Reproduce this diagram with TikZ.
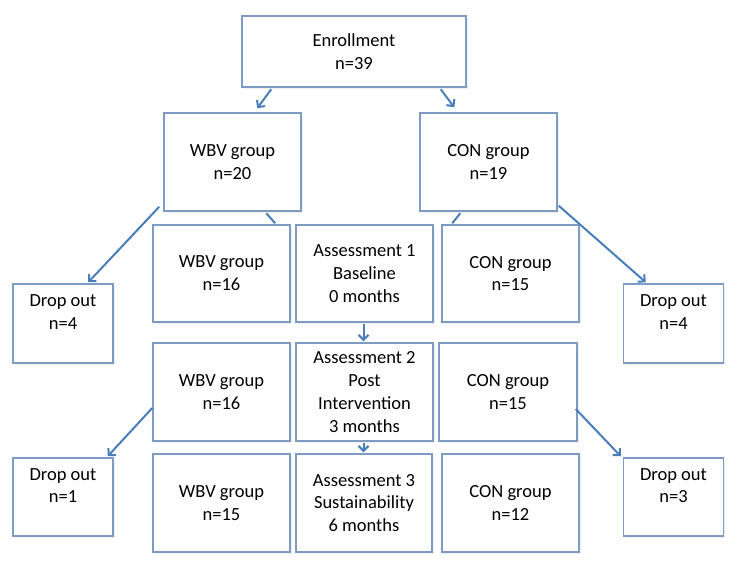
\documentclass[tikz,border=0pt]{standalone}
\usepackage{fontspec}
\setmainfont{Carlito}
\usetikzlibrary{arrows.meta,calc,shadows}
\definecolor{boxc}{RGB}{125,155,195}
\definecolor{arrc}{RGB}{74,126,187}
\begin{document}
\begin{tikzpicture}[x=1pt,y=-1pt,
  box/.style={draw=boxc,line width=1.5pt,fill=white,inner sep=0pt,align=center,
    font=\fontsize{18.5}{22.8}\selectfont,
    execute at begin node={\rule{0pt}{19.8pt}},
    drop shadow={opacity=0.12,shadow xshift=1.5pt,shadow yshift=-1.5pt}},
  wide/.style={box,minimum width=137pt,minimum height=97pt},
  drop/.style={box,minimum width=100pt,minimum height=79pt},
  conn/.style={draw=arrc,line width=2pt},
  arr/.style={conn,-{Straight Barb[length=5pt,width=10pt]}}]
\useasboundingbox (0,0) rectangle (740,566);
% top
\node[box,minimum width=224pt,minimum height=71pt] (enroll) at (354,51.5) {Enrollment\\n=39};
\node[wide,minimum height=98pt] (wbv20) at (232.5,162) {WBV group\\n=20};
\node[wide,minimum height=98pt] (con19) at (488.5,162) {CON group\\n=19};
% row 2
\node[wide] (wbv16a) at (221.5,273.5) {WBV group\\n=16};
\node[wide] (a1) at (364.5,273.5) {Assessment 1\\Baseline\\0 months};
\node[wide] (con15a) at (510.5,273.5) {CON group\\n=15};
\node[drop] (dol1) at (63,323.5) {Drop out\\n=4\\\mbox{}};
\node[drop] (dor1) at (673.5,323.5) {Drop out\\n=4\\\mbox{}};
% row 3
\node[wide,minimum height=98pt] (wbv16b) at (221.5,392) {WBV group\\n=16};
\node[wide,minimum height=98pt] (a2) at (364.5,392) {Assessment 2\\Post\\Intervention\\3 months};
\node[wide,minimum width=138pt,minimum height=98pt] (con15b) at (508,392) {CON group\\n=15};
\node[drop,minimum height=78pt] (dol2) at (63,497) {Drop out\\n=1\\\mbox{}};
\node[drop,minimum height=78pt] (dor2) at (673.5,497) {Drop out\\n=3\\\mbox{}};
% row 4
\node[wide,minimum height=98pt] (wbv15) at (221.5,503) {WBV group\\n=15};
\node[wide,minimum height=98pt,minimum width=136pt] (a3) at (364,503) {Assessment 3\\Sustainability\\6 months};
\node[wide,minimum height=98pt] (con12) at (510.5,503) {CON group\\n=12};
% connectors
\draw[arr] ($(enroll.south west)+(30,1.5)$) -- ($(wbv20.north west)+(94,-4)$);
\draw[arr] ($(enroll.south east)+(-26,1.5)$) -- ($(con19.north west)+(35,-5)$);
\draw[arr] ($(wbv20.south west)+(-4,-5)$) -- ($(dol1.north west)+(76,-1)$);
\draw[conn] ($(wbv20.south west)+(103,1.5)$) -- ($(wbv16a.north west)+(123,-1)$);
\draw[conn] ($(con19.south west)+(41,1.5)$) -- ($(con15a.north west)+(11,-1)$);
\draw[arr] ($(con19.south east)+(1,-6)$) -- ($(dor1.north west)+(23,-1)$);
\draw[arr] ($(a1.south)+(-1,1)$) -- ($(a2.north)+(-1,-1)$);
\draw[arr] ($(wbv16b.west)+(0,16)$) -- ($(dol2.north east)+(-6,-1)$);
\draw[arr] ($(con15b.east)+(-2,17)$) -- ($(dor2.north west)+(-2,-1)$);
\draw[arr] ($(a2.south)+(-1,1)$) -- ($(a3.north)+(-0.5,-1)$);
\end{tikzpicture}
\end{document}
